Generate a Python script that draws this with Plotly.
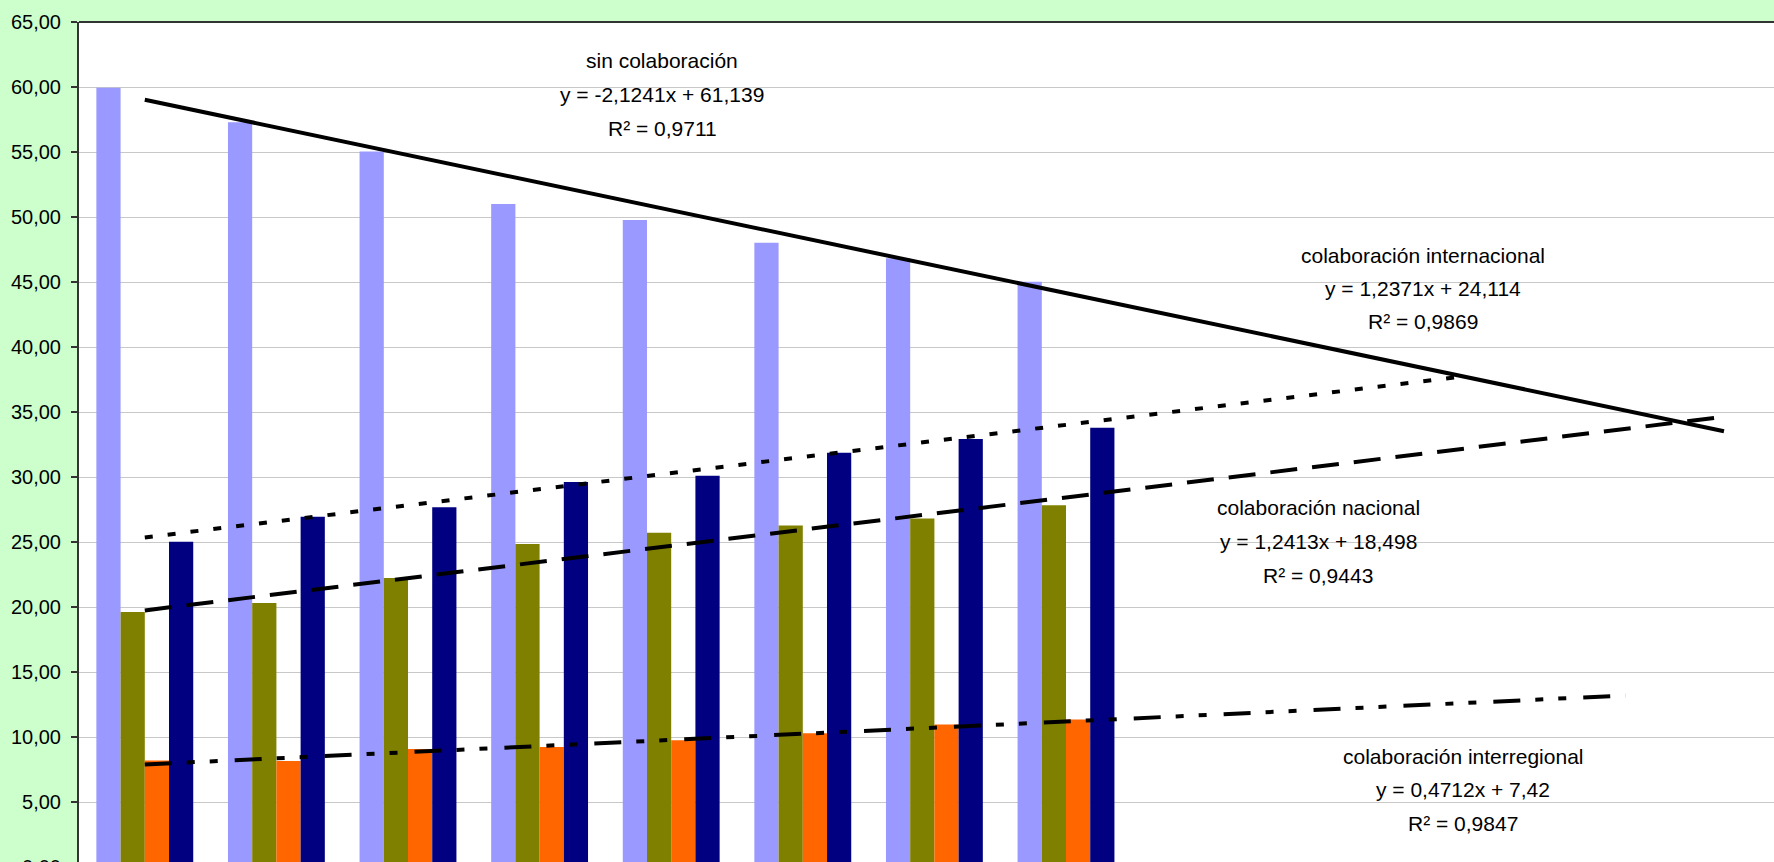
import plotly.graph_objects as go

# Periods (category positions on the x axis)
periods = [1, 2, 3, 4, 5, 6, 7, 8]

# Share of publications (%) by type of collaboration
sin_colaboracion = [59.95, 57.28, 55.03, 51.00, 49.77, 48.02, 46.82, 45.02]
colab_nacional = [19.62, 20.31, 22.23, 24.85, 25.72, 26.26, 26.80, 27.82]
colab_interregional = [8.20, 8.15, 9.08, 9.23, 9.75, 10.28, 10.97, 11.34]
colab_internacional = [25.02, 26.95, 27.67, 29.62, 30.10, 31.87, 32.92, 33.79]

# Linear trendlines: slope, intercept, R², last forecast period
trend_names = ["sin colaboración", "colaboración internacional",
               "colaboración nacional", "colaboración interregional"]
trend_slopes = [-2.1241, 1.2371, 1.2413, 0.4712]
trend_intercepts = [61.139, 24.114, 18.498, 7.42]
trend_r2 = [0.9711, 0.9869, 0.9443, 0.9847]
trend_end = [13, 11, 13, 12.25]

# y-axis ticks
y_ticks = [5, 10, 15, 20, 25, 30, 35, 40, 45, 50, 55, 60, 65]

W, H = 1774, 862
ML, MT = 79, 22
PLOT_W, PLOT_H = W - ML, H - MT
CAT_PX = 131.6          # width of one category in pixels
PX_PER_UNIT = 13.0      # pixels per y unit

x_range = [0.5, 0.5 + PLOT_W / CAT_PX]
y_range = [65 - PLOT_H / PX_PER_UNIT, 65]

FONT = "Liberation Sans, Arial, sans-serif"

fig = go.Figure()

bar_series = [
    ("sin colaboración", sin_colaboracion, "#9999FF"),
    ("colaboración nacional", colab_nacional, "#808000"),
    ("colaboración interregional", colab_interregional, "#FF6600"),
    ("colaboración internacional", colab_internacional, "#000080"),
]
for name, vals, color in bar_series:
    fig.add_trace(go.Bar(x=periods, y=vals, name=name,
                         marker=dict(color=color, line=dict(width=0))))

dash_styles = ["solid", "8px,15px", "27px,15px", "27px,15px,8px,15px,8px,17px"]
for name, m, b, end, dash in zip(trend_names, trend_slopes, trend_intercepts,
                                  trend_end, dash_styles):
    xs = [1, end]
    ys = [m * x + b for x in xs]
    fig.add_trace(go.Scatter(x=xs, y=ys, mode="lines", name=name,
                             line=dict(color="black", width=4, dash=dash),
                             hoverinfo="skip"))


def num(v, fmt):
    return format(v, fmt).replace(".", ",")


def to_paper(px, py):
    return (px - ML) / PLOT_W, (H - py) / PLOT_H


# Label positions in pixels: centre x and first baseline y
label_pos = [(662, 68), (1423, 262), (1318, 515), (1463, 763)]
LINE_STEP = 33.5
annotations = []
for name, m, b, r2, (cx, by) in zip(trend_names, trend_slopes, trend_intercepts,
                                     trend_r2, label_pos):
    sign = "+" if b >= 0 else "-"
    lines = [
        name,
        f"y = {num(m, '.5g')}x {sign} {num(abs(b), '.5g')}",
        f"R² = {num(r2, '.4f')}",
    ]
    for i, txt in enumerate(lines):
        px_, py_ = to_paper(cx, by + i * LINE_STEP - 7)
        annotations.append(dict(x=px_, y=py_, xref="paper", yref="paper",
                                text=txt, showarrow=False, xanchor="center",
                                yanchor="middle",
                                font=dict(family=FONT, size=21, color="black")))

# Zero tick label, sitting just below the visible plot area
zx, zy = to_paper(63, 866.7)
annotations.append(dict(x=zx, y=zy, xref="paper", yref="paper", text="0,00",
                        showarrow=False, xanchor="right", yanchor="middle",
                        font=dict(family=FONT, size=20, color="black")))

fig.update_layout(
    width=W, height=H,
    margin=dict(l=ML, r=0, t=MT, b=0, pad=0),
    paper_bgcolor="#CCFFCC",
    plot_bgcolor="white",
    separators=",.",
    barmode="group",
    bargap=0.264,
    bargroupgap=0,
    showlegend=False,
    font=dict(family=FONT, size=20, color="black"),
    xaxis=dict(range=x_range, showgrid=False, zeroline=False,
               showticklabels=False, ticks="", showline=False, fixedrange=True),
    yaxis=dict(range=y_range, tickvals=y_ticks, tickformat=".2f",
               showgrid=True, gridcolor="#C8C8C8", gridwidth=1,
               zeroline=False, showline=True, linecolor="#333333",
               linewidth=2, ticks="outside", ticklen=6, tickwidth=1.5,
               tickcolor="#333333", ticklabelstandoff=6,
               tickfont=dict(family=FONT, size=20, color="black")),
    annotations=annotations,
    shapes=[dict(type="line", xref="paper", yref="paper", x0=0, x1=1,
                 y0=1, y1=1, line=dict(color="#333333", width=2))],
)

fig.write_html("out.html")
